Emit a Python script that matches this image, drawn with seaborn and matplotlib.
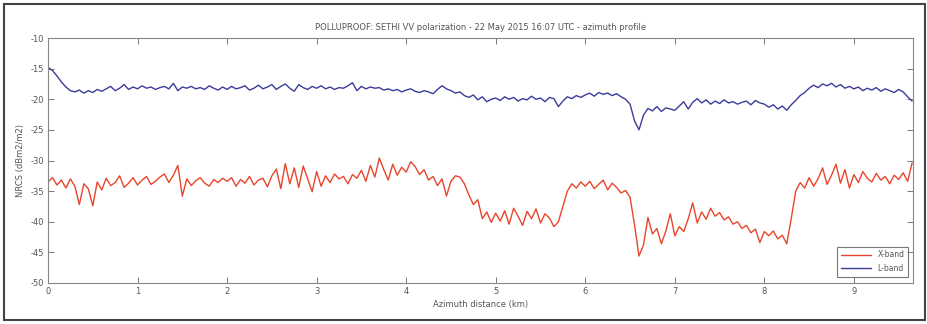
import numpy as np
import pandas as pd
import matplotlib
matplotlib.use("Agg")
import matplotlib.pyplot as plt
from matplotlib.patches import Rectangle
import seaborn as sns

step_km = 0.05
l_band = [
    -14.8, -15.3, -16.2, -17.2, -18.0, -18.6, -18.8, -18.5, -19.0, -18.6, -18.9, -18.4, -18.7, -18.3, -17.9, -18.6, -18.2, -17.6, -18.4, -18.0,
    -18.3, -17.8, -18.2, -18.0, -18.4, -18.1, -17.9, -18.3, -17.4, -18.6, -18.0, -18.2, -17.9, -18.3, -18.1, -18.4, -17.8, -18.2, -18.5, -18.0,
    -18.4, -17.9, -18.3, -18.1, -17.8, -18.5, -18.2, -17.7, -18.3, -18.0, -17.6, -18.4, -17.9, -17.5, -18.2, -18.7, -17.6, -18.1, -18.4, -17.9,
    -18.2, -17.8, -18.3, -18.0, -18.4, -18.1, -18.2, -17.8, -17.3, -18.6, -17.9, -18.3, -18.0, -18.2, -18.1, -18.5, -18.3, -18.6, -18.4, -18.8,
    -18.5, -18.3, -18.7, -18.9, -18.6, -18.8, -19.1, -18.4, -17.8, -18.3, -18.6, -19.0, -18.8, -19.4, -19.7, -19.3, -20.1, -19.6, -20.4, -20.0,
    -19.8, -20.2, -19.6, -20.0, -19.7, -20.3, -19.9, -20.1, -19.5, -20.0, -19.8, -20.4, -19.7, -19.9, -21.2, -20.3, -19.6, -19.9, -19.4, -19.7,
    -19.3, -19.0, -19.5, -18.9, -19.2, -19.0, -19.4, -19.1, -19.6, -20.0, -20.8, -23.5, -25.0, -22.6, -21.5, -21.9, -21.2, -22.0, -21.4, -21.6,
    -21.8, -21.1, -20.4, -21.6, -20.5, -19.9, -20.6, -20.1, -20.8, -20.3, -20.7, -20.1, -20.6, -20.4, -20.8, -20.5, -20.3, -20.9, -20.2, -20.6,
    -20.8, -21.3, -20.9, -21.6, -21.1, -21.8, -20.9, -20.2, -19.4, -18.9, -18.2, -17.7, -18.1, -17.5, -17.8, -17.4, -18.0, -17.6, -18.2, -17.9,
    -18.3, -18.0, -18.6, -18.2, -18.5, -18.1, -18.7, -18.3, -18.6, -18.9, -18.4, -18.8, -19.6, -20.3,
]
x_band = [
    -33.5, -32.8, -34.0, -33.2, -34.5, -33.0, -34.2, -37.2, -33.8, -34.6, -37.4, -33.5, -34.8, -32.9, -34.1, -33.6, -32.5, -34.4, -33.7, -32.8,
    -34.0, -33.2, -32.6, -33.9, -33.4, -32.7, -32.2, -33.6, -32.4, -30.8, -35.8, -33.0, -34.1, -33.3, -32.8, -33.7, -34.2, -33.1, -33.6, -32.9,
    -33.4, -32.8, -34.2, -33.1, -33.7, -32.6, -34.0, -33.2, -32.9, -34.3, -32.5, -31.4, -34.6, -30.5, -33.8, -31.2, -34.4, -30.9, -33.0, -35.1,
    -31.8, -34.2, -32.5, -33.6, -32.2, -33.0, -32.6, -33.8, -32.3, -32.9, -31.6, -33.4, -30.8, -32.7, -29.6, -31.5, -33.2, -30.6, -32.4, -31.1,
    -31.9, -30.2, -31.0, -32.3, -31.5, -33.2, -32.6, -34.1, -33.0, -35.8, -33.4, -32.5, -32.7, -33.8, -35.6, -37.2, -36.4, -39.5, -38.4, -40.1,
    -38.6, -39.9, -38.2, -40.4, -37.8, -39.1, -40.6, -38.3, -39.5, -37.9, -40.2, -38.7, -39.4, -40.8, -40.0, -37.5, -35.0, -33.8, -34.5, -33.5,
    -34.2, -33.4, -34.6, -33.9, -33.2, -34.8, -33.7, -34.4, -35.3, -34.9, -36.0, -40.5, -45.6, -43.8, -39.3, -42.0, -41.1, -43.6, -41.5, -38.7,
    -42.3, -40.8, -41.6, -39.5, -36.9, -40.2, -38.4, -39.6, -37.8, -39.1, -38.5, -39.7, -39.2, -40.4, -40.0, -41.1, -40.6, -41.8, -41.2, -43.4,
    -41.6, -42.3, -41.5, -42.8, -42.2, -43.6, -39.5, -35.0, -33.6, -34.5, -32.8, -34.2, -33.0, -31.2, -33.9, -32.4, -30.6, -33.7, -31.5, -34.5,
    -32.3, -33.6, -31.8, -32.9, -33.5, -32.1, -33.2, -32.6, -33.8, -32.4, -33.1, -32.0, -33.4, -30.4,
]
bands = ["X-band", "L-band"]
x_ticks = [0, 1, 2, 3, 4, 5, 6, 7, 8, 9]
y_ticks = [-50, -45, -40, -35, -30, -25, -20, -15, -10]
title = "POLLUPROOF: SETHI VV polarization - 22 May 2015 16:07 UTC - azimuth profile"

dist = np.round(np.arange(len(l_band)) * step_km, 2)
df = pd.concat([
    pd.DataFrame({"dist": dist, "nrcs": x_band, "band": bands[0]}),
    pd.DataFrame({"dist": dist, "nrcs": l_band, "band": bands[1]}),
])

sns.set_theme(style="white")
plt.rcParams["font.family"] = ["DejaVu Sans"]
plt.rcParams["axes.unicode_minus"] = False

fig = plt.figure(figsize=(9.28, 3.24), dpi=100)
ax = fig.add_axes([48 / 928, 1 - 283 / 324, 865 / 928, 245 / 324])
sns.lineplot(data=df, x="dist", y="nrcs", hue="band", hue_order=bands,
             palette={"X-band": "#e8452c", "L-band": "#3b3b9c"},
             estimator=None, linewidth=1.0, ax=ax)

ax.set_xlim(0, 9.66)
ax.set_ylim(-50, -10)
ax.set_xticks(x_ticks)
ax.set_yticks(y_ticks)
tc = "#555555"
ax.tick_params(direction="in", length=4, width=0.7, labelsize=6, colors="#777777",
               labelcolor=tc, top=True, right=True, bottom=True, left=True, pad=3)
for s in ax.spines.values():
    s.set_color("#888888")
    s.set_linewidth(0.8)
ax.set_title(title, fontsize=6, color=tc, pad=6)
ax.set_xlabel("Azimuth distance (km)", fontsize=6, color=tc, labelpad=3)
ax.set_ylabel("NRCS (dBm2/m2)", fontsize=6, color=tc, labelpad=4)

leg = ax.legend(loc="lower right", fontsize=5.5, frameon=True, fancybox=False,
                handlelength=4, borderpad=0.5, labelspacing=0.6,
                bbox_to_anchor=(0.999, 0.01))
leg.get_frame().set_edgecolor("#555555")
leg.get_frame().set_linewidth(0.8)
for t in leg.get_texts():
    t.set_color(tc)

fig.patches.append(Rectangle((4 / 928, 4 / 324), 921 / 928, 316 / 324,
                             transform=fig.transFigure, fill=False,
                             edgecolor="#444444", linewidth=1.5))
fig.savefig("out.png", dpi=100)
